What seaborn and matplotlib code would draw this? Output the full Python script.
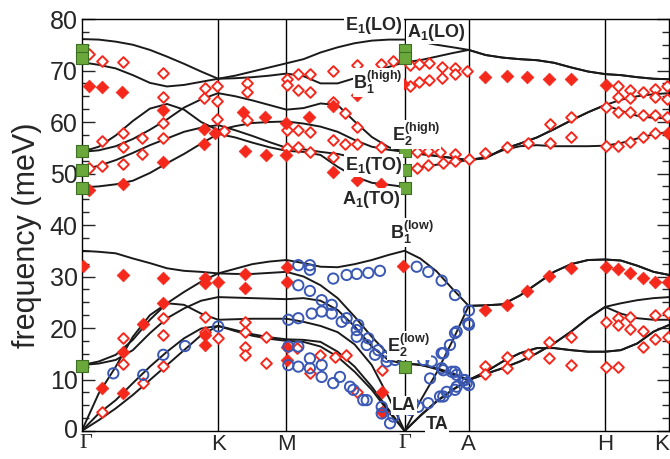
import numpy as np
import pandas as pd
import matplotlib
matplotlib.use("Agg")
import matplotlib.pyplot as plt
import matplotlib.transforms as mtransforms
import seaborn as sns

# high symmetry points along the path
sym_pos = [0.0, 1.0, 1.5, 2.366, 2.835, 3.835, 4.304]
sym_lab = ['Γ', 'K', 'M', 'Γ', 'A', 'H', 'K']

# sampling of the path (Γ-K, K-M, M-Γ, Γ-A, A-H, H-K)
q = [0.0, 0.125, 0.25, 0.375, 0.5, 0.625, 0.75, 0.875, 1.0,
     1.125, 1.25, 1.375, 1.5,
     1.625, 1.75, 1.875, 2.0, 2.125, 2.25, 2.366,
     2.48, 2.6, 2.72, 2.835,
     2.96, 3.085, 3.21, 3.335, 3.46, 3.585, 3.71, 3.835,
     3.95, 4.07, 4.19, 4.304]

# calculated phonon branches (meV)
ta2 = [0, 2.1, 4.4, 7.0, 9.9, 12.8, 15.7, 18.6, 20.4,
       19.4, 18.5, 17.9, 17.5,
       17.3, 16.4, 14.4, 11.5, 8.0, 3.7, 0,
       2.9, 5.7, 8.0, 9.9,
       11.5, 13.5, 15.1, 16.1, 16.1, 15.7, 15.4, 15.4,
       15.7, 17.0, 19.3, 20.6]
ta1 = [0, 3.4, 6.0, 9.3, 12.5, 15.4, 18.0, 19.9, 20.4,
       19.6, 18.8, 18.2, 17.8,
       17.7, 17.3, 15.4, 12.5, 8.6, 4.1, 0,
       3.0, 5.8, 8.1, 9.9,
       11.1, 12.2, 13.5, 15.1, 17.0, 19.3, 21.9, 24.1,
       22.8, 21.9, 21.6, 21.6]
la = [0, 7.3, 12.5, 18.3, 22.5, 24.8, 24.5, 22.8, 21.6,
      21.7, 21.8, 21.8, 21.8,
      21.2, 20.4, 19.2, 16.8, 12.8, 6.5, 0,
      5.8, 11.3, 17.7, 24.3,
      24.4, 24.6, 26.3, 28.6, 30.9, 32.4, 33.2, 33.3,
      33.1, 32.1, 30.9, 30.3]
e2low_a = [12.8, 13.5, 14.8, 17.7, 21.6, 24.8, 27.0, 29.0, 30.6,
           30.5, 30.5, 30.7, 30.9,
           30.0, 28.3, 25.8, 22.2, 18.3, 14.8, 13.1,
           12.8, 12.2, 11.2, 9.9,
           11.1, 12.2, 13.5, 15.1, 17.0, 19.3, 21.9, 24.1,
           24.8, 25.4, 25.8, 26.0]
e2low_b = [12.8, 13.1, 13.8, 15.7, 19.0, 21.9, 23.8, 25.3, 26.0,
           25.9, 25.8, 25.7, 25.6,
           25.8, 25.3, 23.5, 20.3, 16.4, 13.7, 13.1,
           12.9, 12.0, 10.9, 9.9,
           11.5, 13.5, 15.1, 16.1, 16.1, 15.7, 15.4, 15.4,
           15.7, 17.0, 19.3, 20.6]
b1low = [35.0, 34.8, 34.5, 33.5, 32.6, 31.6, 31.1, 30.9, 30.6,
         31.5, 32.4, 32.9, 33.2,
         32.6, 31.9, 31.8, 32.4, 33.2, 34.2, 35.0,
         33.5, 31.0, 27.5, 24.3,
         24.4, 24.6, 26.3, 28.6, 30.9, 32.4, 33.2, 33.3,
         33.1, 32.1, 30.9, 30.3]
e2high_a = [54.2, 55.2, 57.4, 60.2, 62.6, 63.5, 62.4, 60.0, 58.4,
            59.2, 59.8, 60.0, 60.1,
            59.7, 59.1, 58.1, 56.5, 55.2, 54.6, 54.2,
            53.8, 53.4, 53.0, 52.6,
            53.0, 54.7, 55.8, 57.0, 58.6, 60.3, 61.9, 63.3,
            62.2, 61.2, 60.8, 60.7]
e1to = [50.7, 51.5, 52.6, 54.0, 55.5, 56.8, 58.1, 58.9, 59.4,
        58.4, 57.3, 56.1, 55.0,
        54.7, 54.2, 53.8, 53.1, 52.3, 51.5, 50.8,
        51.2, 51.7, 52.2, 52.6,
        53.2, 54.5, 55.3, 55.5, 55.3, 55.3, 55.3, 55.4,
        55.9, 56.8, 57.6, 58.1]
a1to = [47.3, 47.5, 47.9, 48.6, 50.1, 52.0, 53.8, 55.8, 57.7,
        57.0, 56.0, 55.1, 54.4,
        54.2, 53.6, 51.3, 49.4, 48.2, 47.8, 47.4,
        np.nan, np.nan, np.nan, np.nan,
        np.nan, np.nan, np.nan, np.nan, np.nan, np.nan, np.nan, np.nan,
        np.nan, np.nan, np.nan, np.nan]
e2high_b = [54.2, 54.5, 55.3, 56.7, 58.5, 60.5, 62.8, 64.4, 65.6,
            65.0, 64.2, 63.3, 62.4,
            62.7, 63.6, 63.3, 60.1, 57.1, 55.1, 54.2,
            53.8, 53.4, 53.0, 52.6,
            53.0, 54.7, 55.8, 57.0, 58.6, 60.3, 61.9, 63.3,
            64.3, 65.0, 65.4, 65.6]
lo_low = [71.6, 71.1, 70.4, 69.1, 67.6, 66.9, 67.2, 67.8, 68.4,
          68.5, 68.7, 69.0, 69.4,
          68.9, 67.5, 67.5, 68.5, 69.6, 70.7, 71.6,
          72.0, 72.7, 73.4, 74.0,
          73.0, 72.5, 72.2, 72.0, 71.5, 70.6, 69.8, 69.3,
          69.1, 68.7, 68.4, 68.3]
lo_high = [76.1, 76.0, 75.6, 75.0, 74.0, 72.7, 71.3, 69.8, 68.4,
           69.0, 69.8, 70.6, 71.4,
           72.2, 73.5, 74.5, 75.3, 75.8, 76.0, 76.0,
           75.6, 75.0, 74.5, 74.0,
           73.0, 72.5, 72.2, 72.0, 71.5, 70.6, 69.8, 69.3,
           69.1, 68.7, 68.4, 68.3]
branches = [ta2, ta1, la, e2low_a, e2low_b, b1low,
            e2high_a, e1to, a1to, e2high_b, lo_low, lo_high]

# experiment: filled red diamonds
filled_q = [0.056, 0.147, 0.293, 0.598, 0.598, 0.896, 0.896, 0.977, 0.300, 0.056,
            1.184, 1.343, 1.497, 1.667, 1.843, 1.196, 1.350, 1.497, 1.843, 2.015, 2.190,
            2.015, 2.190, 2.275, 2.356,
            2.955, 3.114, 3.264, 3.426, 3.585, 3.839, 4.296,
            0.007, 0.305, 0.598, 0.903, 0.903, 1.0, 0.598, 0.451, 0.305, 0.147, 0.305,
            0.903, 0.903,
            1.196, 1.196, 1.502, 1.502, 2.352, 1.502, 1.502, 2.198, 2.198,
            2.955, 3.114, 3.264, 3.426, 3.585, 3.839, 3.927, 4.017, 4.110, 4.200, 4.296]
filled_e = [67.0, 66.7, 65.9, 62.3, 52.3, 58.6, 55.8, 57.9, 47.9, 46.8,
            62.0, 60.9, 59.9, 61.0, 63.2, 54.3, 53.5, 53.5, 50.3, 48.7, 48.0,
            65.2, 66.6, 67.3, 67.4,
            68.7, 69.0, 68.7, 68.3, 68.3, 67.2, 57.9,
            32.0, 30.3, 29.7, 29.7, 28.7, 29.0, 24.9, 20.8, 15.4, 8.3, 7.3,
            18.6, 16.7,
            30.5, 27.7, 31.9, 29.0, 32.0, 16.4, 13.8, 7.6, 3.7,
            23.4, 24.5, 27.2, 30.1, 31.7, 31.9, 31.5, 30.6, 29.8, 29.0, 29.0]

# experiment: open red diamonds
open_q = [0.056, 0.147, 0.300, 0.598, 0.903, 0.989, 0.598, 0.896, 0.989, 0.989,
          0.598, 0.598, 0.444, 0.300, 0.300, 0.147, 0.444, 0.300, 0.147, 0.056, 1.042,
          1.209, 1.209, 1.209, 1.502, 1.502, 1.587, 1.672, 1.587, 1.672, 1.843, 2.015,
          2.190, 2.278, 1.502, 1.587, 1.672, 1.502, 1.587, 1.672, 1.843, 1.929, 2.015,
          1.843, 1.929, 2.015, 1.843, 2.190,
          2.405, 2.473, 2.546, 2.637, 2.735, 2.825, 2.405, 2.473, 2.546, 2.637, 2.735,
          2.454, 2.539, 2.625, 2.735, 2.454, 2.539, 2.645, 2.735, 2.837,
          2.955, 3.114, 3.272, 3.431, 3.431, 3.585, 3.585,
          3.839, 3.927, 4.017, 4.110, 4.200, 4.286, 3.927, 4.017, 4.200, 4.286,
          3.927, 4.017, 4.110, 4.200, 4.286, 3.839, 3.927, 4.017, 4.110, 4.200,
          0.305, 0.305, 0.147, 0.451, 0.598, 0.598, 0.598, 0.903, 0.903, 1.0,
          1.196, 1.196, 1.196, 1.196, 1.350, 1.350, 1.580, 1.746, 1.856, 1.936,
          2.015, 2.198, 1.672,
          2.955, 2.955, 3.114, 3.114, 3.272, 3.426, 3.426, 3.585, 3.585, 3.839,
          3.927, 3.927, 4.017, 4.017, 4.110, 4.110, 4.200, 4.200, 4.296, 4.296,
          3.839, 3.927]
open_e = [73.3, 71.8, 71.6, 69.6, 66.6, 67.0, 64.9, 64.6, 64.1, 60.5,
          59.9, 56.8, 56.8, 57.9, 55.1, 56.3, 53.8, 51.8, 51.5, 51.0, 58.3,
          67.5, 65.8, 60.4, 68.3, 67.2, 69.3, 69.4, 66.2, 65.9, 70.0, 71.1,
          71.2, 71.9, 58.4, 58.4, 58.0, 54.9, 55.1, 54.2, 63.9, 61.7, 59.1,
          56.6, 55.7, 55.7, 53.3, 55.2,
          71.1, 71.2, 71.4, 70.7, 70.5, 69.9, 66.9, 67.8, 68.2, 68.5, 69.4,
          54.2, 54.4, 54.2, 53.8, 51.0, 51.7, 52.0, 52.5, 52.9,
          53.9, 55.2, 56.0, 55.9, 59.7, 60.9, 57.0,
          63.0, 66.9, 66.3, 65.9, 66.5, 66.9, 64.8, 64.6, 64.8, 64.4,
          62.0, 62.0, 61.4, 61.4, 60.9, 55.4, 55.4, 56.2, 57.0, 57.9,
          18.0, 13.1, 3.7, 9.3, 21.9, 18.6, 12.7, 22.2, 19.3, 18.0,
          21.2, 19.3, 16.4, 14.8, 18.3, 13.3, 16.1, 14.8, 14.3, 14.8,
          7.6, 11.8, 11.2,
          12.7, 11.1, 14.3, 12.2, 15.0, 17.2, 14.1, 18.2, 12.9, 21.1,
          22.0, 20.6, 22.2, 19.9, 19.5, 16.4, 22.5, 17.8, 22.9, 18.2,
          12.5, 12.5]

# experiment: open blue circles
circ_q = [0.232, 0.451, 0.598, 0.757, 1.0,
          1.587, 1.672, 1.672, 1.843, 1.941, 2.015, 2.100, 2.185,
          1.587, 1.672, 1.758, 1.832, 1.941, 2.026, 2.015, 2.100, 2.173, 2.234, 2.295,
          1.587, 1.685, 1.758, 1.832, 1.905, 2.015, 2.088, 2.149, 2.234,
          1.514, 1.514, 1.587, 1.672, 1.758, 1.892, 1.990, 2.088, 2.198, 2.283,
          1.514, 1.587, 1.672, 1.758, 1.843, 1.966, 2.063, 2.198, 2.259,
          2.454, 2.539, 2.637, 2.735, 2.837, 2.837, 2.735, 2.698, 2.649, 2.649,
          2.735, 2.796, 2.837, 2.735, 2.649,
          2.503, 2.564, 2.637, 2.711, 2.747, 2.808,
          2.429, 2.552, 2.637, 2.747, 2.832,
          2.405, 2.466, 2.539, 2.625, 2.674, 2.747, 2.821]
circ_e = [11.2, 10.9, 14.8, 16.5, 20.3,
          32.2, 32.2, 31.3, 29.6, 30.3, 30.5, 30.7, 31.1,
          28.3, 27.2, 25.4, 24.5, 21.9, 20.6, 19.6, 18.0, 15.7, 14.4, 13.8,
          21.9, 22.8, 23.2, 22.8, 21.2, 18.3, 16.7, 14.8, 13.5,
          21.6, 16.4, 16.4, 14.1, 12.8, 10.5, 8.0, 6.0, 4.7, 2.8,
          12.8, 12.5, 12.2, 10.5, 9.3, 8.6, 6.0, 3.4, 1.5,
          31.9, 30.9, 29.2, 26.4, 23.4, 20.6, 19.0, 16.7, 15.1, 11.8,
          11.5, 9.9, 8.9, 8.0, 6.7,
          13.8, 13.5, 12.2, 11.5, 10.9, 9.9,
          5.4, 10.2, 15.1, 19.3, 20.9,
          4.1, 4.7, 5.4, 6.7, 7.6, 8.6, 9.3]

# Raman modes at Γ (green squares)
raman_q = [0.0, 0.0, 0.0, 0.0, 0.0, 0.0, 2.366, 2.366, 2.366, 2.366, 2.366, 2.366]
raman_e = [74.0, 72.4, 54.3, 50.7, 47.1, 12.7, 74.0, 72.4, 54.3, 50.7, 47.1, 12.5]

sns.set_style('ticks')
plt.rcParams['font.family'] = ['Liberation Sans', 'DejaVu Sans']
plt.rcParams['mathtext.fontset'] = 'custom'
plt.rcParams['mathtext.default'] = 'bf'
plt.rcParams['mathtext.bf'] = 'Liberation Sans:bold'
plt.rcParams['mathtext.rm'] = 'Liberation Sans:bold'

red = '#f5281c'
blue = '#3a58b4'

fig = plt.figure(figsize=(6.7, 4.59), dpi=100)
ax = fig.add_axes([0.1219, 0.061, 0.8769, 0.8976])

for x in sym_pos[1:-1]:
    ax.axvline(x, color='black', lw=1.0, zorder=1)

for br in branches:
    sns.lineplot(x=q, y=br, ax=ax, color='#1a1a1a', lw=1.4,
                 estimator=None, sort=False, zorder=2)

sns.scatterplot(x=open_q, y=open_e, ax=ax, marker='D', s=30,
                color='white', edgecolor=red, linewidth=1.4, zorder=3)
sns.scatterplot(x=filled_q, y=filled_e, ax=ax, marker='D', s=42,
                color=red, edgecolor=red, linewidth=0.5, zorder=3)
sns.scatterplot(x=circ_q, y=circ_e, ax=ax, marker='o', s=55,
                facecolor='none', edgecolor=blue, linewidth=1.4, zorder=3)
sns.scatterplot(x=raman_q, y=raman_e, ax=ax, marker='s', s=85,
                color='#6aa83c', edgecolor='#3f6e25', linewidth=0.8,
                zorder=5, clip_on=False)

# mode labels
lab_kw = dict(fontsize=13, fontweight='bold', zorder=6, clip_on=False,
              bbox=dict(facecolor='white', edgecolor='none', pad=0.6))
ax.text(2.354, 78.8, 'E$_1$(LO)', ha='right', va='center', **lab_kw)
ax.text(2.384, 77.4, 'A$_1$(LO)', ha='left', va='center', **lab_kw)
ax.text(2.354, 67.6, 'B$_1^{(high)}$', ha='right', va='center', **lab_kw)
ax.text(2.273, 57.6, 'E$_2^{(high)}$', ha='left', va='center', **lab_kw)
ax.text(2.350, 51.6, 'E$_1$(TO)', ha='right', va='center', **lab_kw)
ax.text(2.335, 44.9, 'A$_1$(TO)', ha='right', va='center', **lab_kw)
ax.text(2.259, 38.6, 'B$_1^{(low)}$', ha='left', va='center', **lab_kw)
ax.text(2.240, 16.6, 'E$_2^{(low)}$', ha='left', va='center', **lab_kw)
ax.text(2.362, 5.0, 'LA', ha='center', va='center', **lab_kw)
ax.text(2.603, 1.3, 'TA', ha='center', va='center', **lab_kw)

ax.set_xlim(0, 4.304)
ax.set_ylim(0, 80)
ax.set_xticks(sym_pos)
ax.set_xticklabels(sym_lab)
for t in ax.get_xticklabels():
    if t.get_text() == 'Γ':
        t.set_fontfamily(['Liberation Serif', 'DejaVu Serif'])
ax.get_xticklabels()[-1].set_horizontalalignment('right')
ax.set_yticks(np.arange(0, 81, 10))
ax.set_yticks(np.arange(0, 81, 2.5), minor=True)
ax.tick_params(axis='x', length=0, pad=2.5, labelsize=16)
ax.tick_params(axis='y', which='both', direction='in', right=True,
               labelsize=18, pad=3, width=1.0)
ax.tick_params(axis='y', which='major', length=9)
ax.tick_params(axis='y', which='minor', length=5)
for s in ax.spines.values():
    s.set_linewidth(1.0)
    s.set_color('black')
ax.set_xlabel('')
ax.set_ylabel('frequency (meV)', fontsize=22)
ax.yaxis.set_label_coords(-0.068, 0.475)

# keep the first Γ clear of the "0" tick label
first = ax.get_xticklabels()[0]
first.set_transform(first.get_transform() +
                    mtransforms.ScaledTranslation(4 / 100, 0, fig.dpi_scale_trans))
zero = ax.get_yticklabels()[0]
zero.set_transform(zero.get_transform() +
                   mtransforms.ScaledTranslation(0, 3 / 100, fig.dpi_scale_trans))

fig.savefig('out.png', dpi=100)
